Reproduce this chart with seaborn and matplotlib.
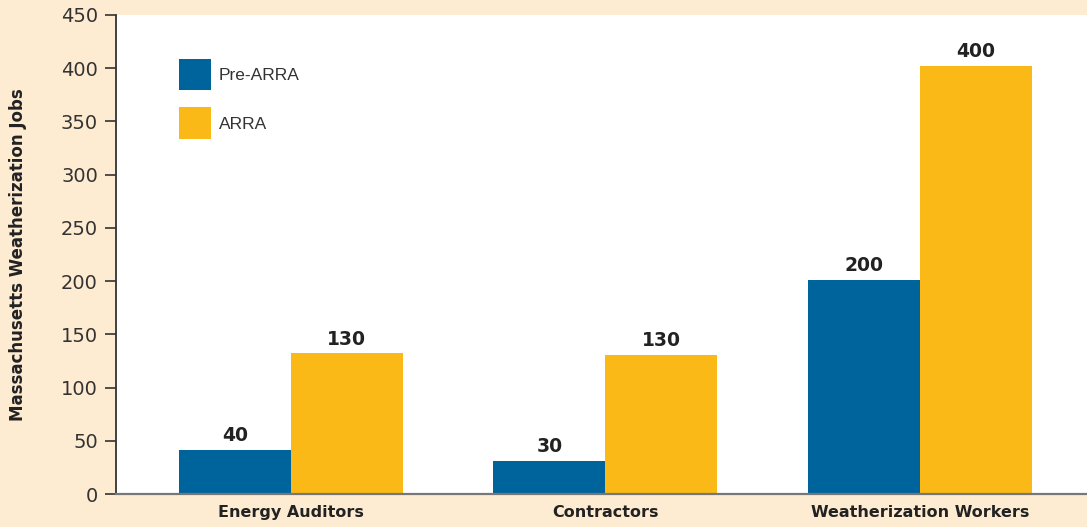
import matplotlib
matplotlib.use("Agg")
import matplotlib.pyplot as plt
import seaborn as sns
import pandas as pd
from matplotlib.patches import Patch

categories = ["Energy Auditors", "Contractors", "Weatherization Workers"]
series_names = ["Pre-ARRA", "ARRA"]
pre_arra = [41, 31, 201]
arra = [132, 131, 402]
pre_labels = ["40", "30", "200"]
arra_labels = ["130", "130", "400"]
y_ticks = [0, 50, 100, 150, 200, 250, 300, 350, 400, 450]

colors = ["#00649C", "#FBB917"]
bg = "#FEECD2"

df = pd.DataFrame({
    "category": categories * 2,
    "series": [series_names[0]] * 3 + [series_names[1]] * 3,
    "value": pre_arra + arra,
})

sns.set_theme(style="white")
plt.rcParams["font.family"] = ["DejaVu Sans"]

W, H = 1087, 527
fig = plt.figure(figsize=(W / 100, H / 100), dpi=100, facecolor=bg)
ax = fig.add_axes([116 / W, (H - 494) / H, (W - 116) / W, (494 - 15) / H])
ax.set_facecolor("white")

sns.barplot(data=df, x="category", y="value", hue="series", palette=colors,
            width=0.712, saturation=1, ax=ax, legend=False, linewidth=0, errorbar=None)

ax.set_xlim(-0.556, 2.531)
ax.set_ylim(0, 450)
ax.set_yticks(y_ticks)
ax.set_yticklabels([str(t) for t in y_ticks], fontsize=14, color="#333333")
ax.tick_params(axis="y", direction="out", length=8, width=1.2, color="#333333", pad=5, left=True)
ax.tick_params(axis="x", length=0, pad=8)
for lbl in ax.get_xticklabels():
    lbl.set_fontweight("bold")
    lbl.set_fontsize(11.5)
    lbl.set_color("#222222")
ax.set_xlabel("")
ax.set_ylabel("Massachusetts Weatherization Jobs", fontsize=12, fontweight="bold",
              color="#222222", labelpad=24)

for side in ["top", "right"]:
    ax.spines[side].set_visible(False)
ax.spines["left"].set_color("#333333")
ax.spines["left"].set_linewidth(1.3)
ax.spines["bottom"].set_color("#777777")
ax.spines["bottom"].set_linewidth(1.6)

for container, labels in zip(ax.containers, [pre_labels, arra_labels]):
    ax.bar_label(container, labels=labels, padding=3.5, fontsize=13.5, fontweight="bold",
                 color="#222222")

handles = [Patch(facecolor=c, edgecolor="none") for c in colors]
ax.legend(handles, series_names, loc="upper left", bbox_to_anchor=(0.049, 0.941),
          frameon=False, fontsize=12.5, handlelength=1.84, handleheight=2.42,
          labelspacing=0.98, handletextpad=0.45, labelcolor="#333333",
          prop={"family": "Liberation Sans", "size": 12.5})

fig.savefig("out.png", dpi=100, facecolor=bg)
